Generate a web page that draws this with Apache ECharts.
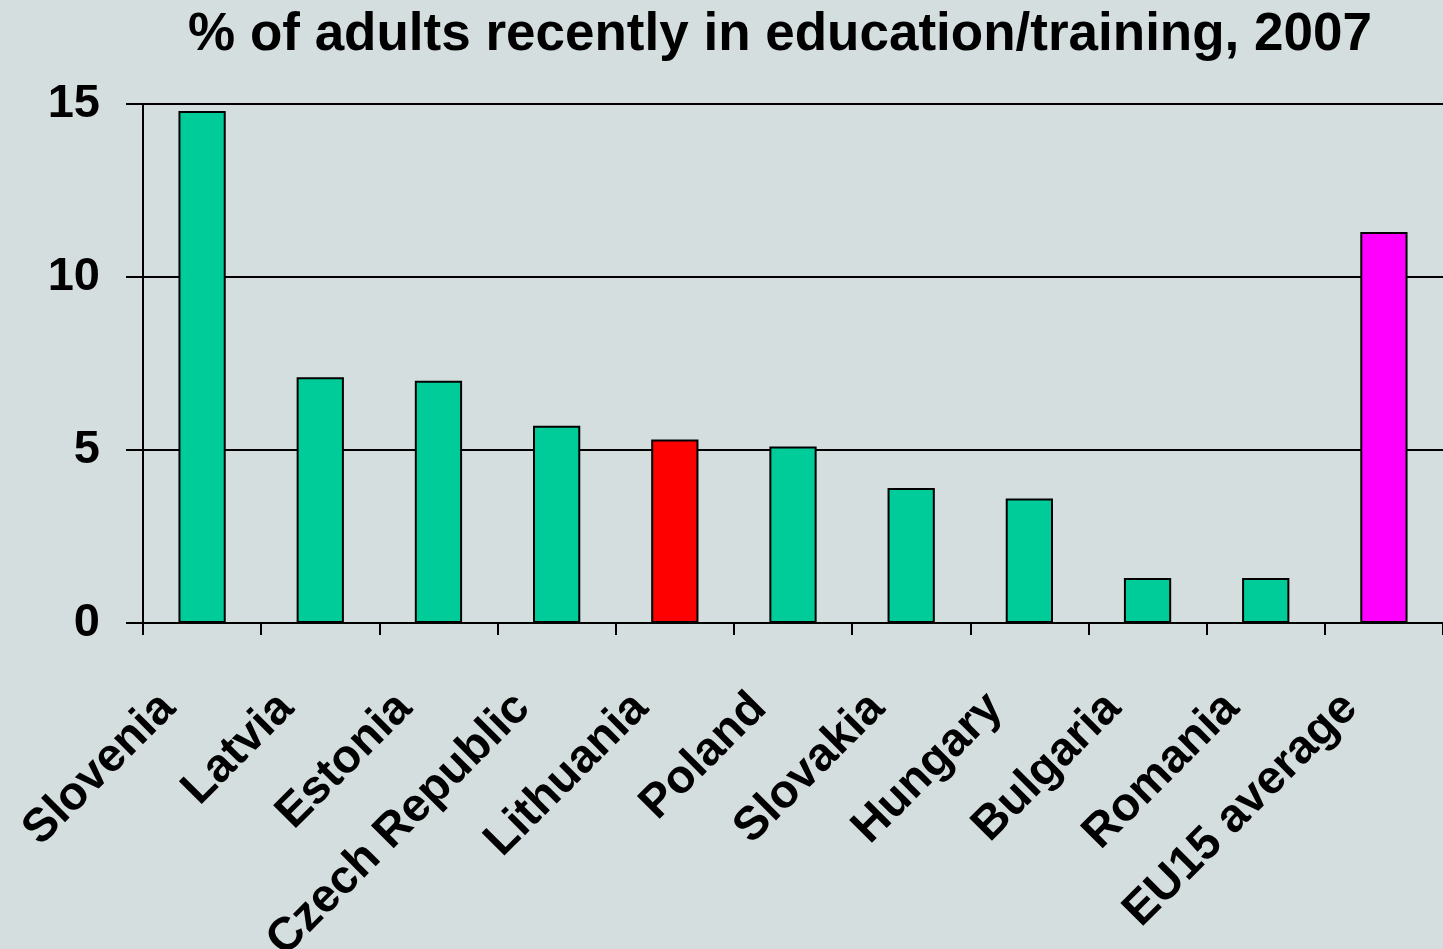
<!DOCTYPE html>
<html>
<head>
    <meta charset="utf-8">
    <title>Adults in education/training 2007</title>
    <script src="https://cdn.jsdelivr.net/npm/echarts@6/dist/echarts.min.js"></script>
    <style>
        html, body { margin: 0; padding: 0; background: #d5dedf; }
        #main { width: 1443px; height: 949px; }
    </style>
</head>
<body>
<div id="main"></div>
<script>
    // data
    var countries = ['Slovenia', 'Latvia', 'Estonia', 'Czech Republic', 'Lithuania', 'Poland',
        'Slovakia', 'Hungary', 'Bulgaria', 'Romania', 'EU15 average'];
    var values = [14.8, 7.1, 7.0, 5.7, 5.3, 5.1, 3.9, 3.6, 1.3, 1.3, 11.3];
    var barColors = ['#00cc99', '#00cc99', '#00cc99', '#00cc99', '#ff0000', '#00cc99',
        '#00cc99', '#00cc99', '#00cc99', '#00cc99', '#ff00ff'];
    var yTicks = [0, 5, 10, 15];

    var chart = echarts.init(document.getElementById('main'));
    var font = 'Arial, "Liberation Sans", sans-serif';

    var option = {
        backgroundColor: '#d5dedf',
        animation: false,
        title: {
            text: '% of adults recently in education/training, 2007',
            left: 775,
            textAlign: 'center',
            top: 4,
            textStyle: { fontFamily: font, fontWeight: 'bold', fontSize: 53, color: '#000' }
        },
        grid: { left: 143, right: 0, top: 104, bottom: 326, outerBoundsMode: 'none', containLabel: false },
        xAxis: {
            type: 'category',
            data: countries,
            axisLine: { lineStyle: { color: '#000', width: 2 } },
            axisTick: { show: true, interval: 0, length: 12, lineStyle: { color: '#000', width: 2 } },
            axisLabel: {
                interval: 0,
                rotate: 45,
                margin: 44,
                padding: [0, 48, 0, 0],
                fontFamily: font,
                fontWeight: 'bold',
                fontSize: 47,
                color: '#000'
            }
        },
        yAxis: {
            type: 'value',
            min: yTicks[0],
            max: yTicks[yTicks.length - 1],
            interval: 5,
            axisLine: { show: true, lineStyle: { color: '#000', width: 2 } },
            axisTick: { show: true, length: 17, lineStyle: { color: '#000', width: 2 } },
            splitLine: { lineStyle: { color: '#000', width: 2 } },
            axisLabel: {
                margin: 43,
                fontFamily: font,
                fontWeight: 'bold',
                fontSize: 47,
                color: '#000'
            }
        },
        series: [{
            type: 'bar',
            barWidth: '40%',
            data: values.map(function (v, i) {
                return { value: v, itemStyle: { color: barColors[i] } };
            }),
            itemStyle: { borderColor: '#000', borderWidth: 2 }
        }]
    };
    chart.setOption(option);
</script>
</body>
</html>
